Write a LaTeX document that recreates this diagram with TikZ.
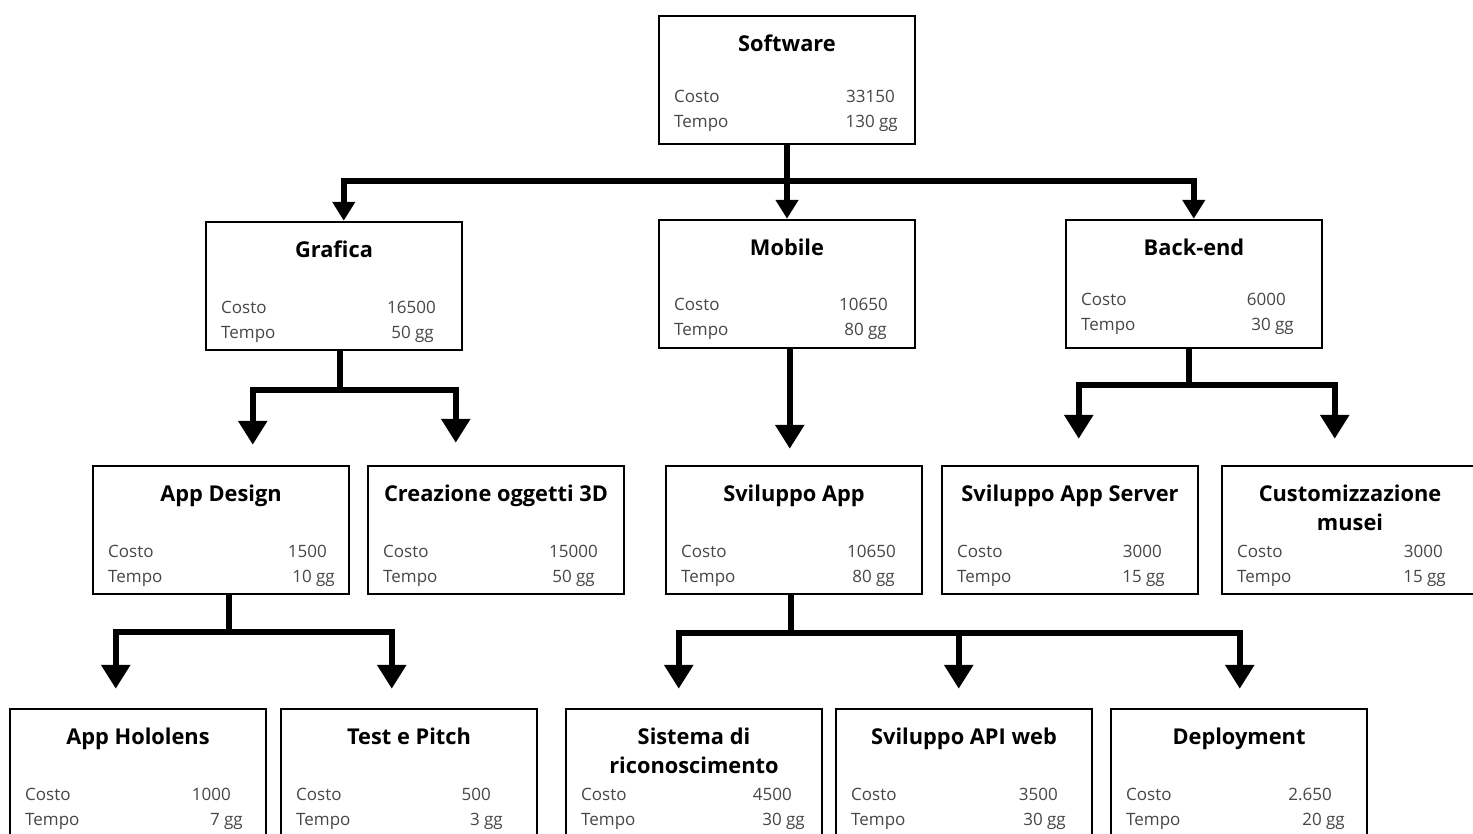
\documentclass[tikz,border=0pt]{standalone}
\usepackage{fontspec}
\setmainfont{Open Sans}
\usetikzlibrary{arrows.meta,calc}

\tikzset{
  wbs/.style={draw=black, line width=2.5pt, fill=white, minimum width=256pt, minimum height=128pt, inner sep=0pt},
  ttl/.style={anchor=north, inner sep=0pt, align=center, font=\fontsize{21.8}{29.5}\selectfont\bfseries},
  lbl/.style={anchor=base west, inner sep=0pt, text=black!72, font=\fontsize{17}{20}\selectfont},
  val/.style={anchor=base east, inner sep=0pt, text=black!72, font=\fontsize{17}{20}\selectfont},
  link/.style={line width=6pt, line join=miter},
  toparrow/.style={link, -{Triangle[width=22pt,length=19pt]}},
  subarrow/.style={link, -{Triangle[width=28pt,length=24pt]}},
}

% work-package box: name, left, top, title, cost, time, cost right edge, time right edge, first line baseline
\newcommand{\wbsbox}[9]{%
  \node[wbs] (#1) at (#2+128,#3+64) {};
  \node[ttl] (#1-t) at (#2+128,#3+18.5) {#4};
  \node[lbl] (#1-cl) at (#2+15,#3+#9) {Costo};
  \node[lbl] (#1-tl) at (#2+15,#3+#9+25) {Tempo};
  \node[val] (#1-cv) at (#7,#3+#9) {#5};
  \node[val] (#1-tv) at (#8,#3+#9+25) {#6};
}

\begin{document}
\begin{tikzpicture}[x=1pt,y=-1pt]
\useasboundingbox (0,0) rectangle (1473,833);
\clip (0,0) rectangle (1473,833);

% level 0
\wbsbox{sw}{659}{16}{Software}{33150}{130 gg}{895}{898}{86}
% level 1
\wbsbox{gr}{206}{222}{Grafica}{16500}{50 gg}{436}{434}{91}
\wbsbox{mo}{659}{220}{Mobile}{10650}{80 gg}{888}{887}{90}
\wbsbox{be}{1066}{220}{Back-end}{6000}{30 gg}{1286}{1294}{85}
% level 2
\wbsbox{ad}{93}{466}{App Design}{1500}{10 gg}{327}{335}{91}
\wbsbox{c3d}{368}{466}{Creazione oggetti 3D}{15000}{50 gg}{598}{595}{91}
\wbsbox{sa}{666}{466}{Sviluppo App}{10650}{80 gg}{896}{895}{91}
\wbsbox{srv}{942}{466}{Sviluppo App Server}{3000}{15 gg}{1162}{1165}{91}
\wbsbox{cm}{1222}{466}{Customizzazione\\musei}{3000}{15 gg}{1443}{1446}{91}
% level 3
\wbsbox{hl}{10}{709}{App Hololens}{1000}{7 gg}{231}{243}{91}
\wbsbox{tp}{281}{709}{Test e Pitch}{500}{3 gg}{491}{503}{91}
\wbsbox{sr}{566}{709}{Sistema di\\riconoscimento}{4500}{30 gg}{792}{805}{91}
\wbsbox{api}{836}{709}{Sviluppo API web}{3500}{30 gg}{1058}{1066}{91}
\wbsbox{dep}{1111}{709}{Deployment}{2.650}{20 gg}{1332}{1345}{91}

% Software -> level 1
\coordinate (swj) at ($(sw.south)+(0,36)$);
\draw[toparrow] (sw.south) -- (mo.north);
\draw[toparrow] (swj) -| ($(gr.north west)+(139,0)$);
\draw[toparrow] (swj) -| ($(be.north west)+(129,0)$);

% Grafica -> App Design, Creazione oggetti 3D
\coordinate (grs) at ($(gr.south west)+(135,0)$);
\coordinate (grj) at ($(grs)+(0,39)$);
\draw[subarrow, shorten >=20pt] (grs) -- (grj) -| ($(ad.north west)+(161,0)$);
\draw[subarrow, shorten >=22pt] (grs) -- (grj) -| ($(c3d.north west)+(89,0)$);

% Mobile -> Sviluppo App
\coordinate (mos) at ($(mo.south west)+(132,0)$);
\draw[subarrow, shorten >=16pt] (mos) -- (mos |- sa.north);

% Back-end -> Sviluppo App Server, Customizzazione musei
\coordinate (bes) at ($(be.south west)+(124,0)$);
\coordinate (bej) at ($(bes)+(0,36)$);
\draw[subarrow, shorten >=26pt] (bes) -- (bej) -| ($(srv.north west)+(138,0)$);
\draw[subarrow, shorten >=26pt] (bes) -- (bej) -| ($(cm.north west)+(114,0)$);

% App Design -> App Hololens, Test e Pitch
\coordinate (ads) at ($(ad.south west)+(137,0)$);
\coordinate (adj) at ($(ads)+(0,37)$);
\draw[subarrow, shorten >=19pt] (ads) -- (adj) -| ($(hl.north west)+(107,0)$);
\draw[subarrow, shorten >=19pt] (ads) -- (adj) -| ($(tp.north west)+(112,0)$);

% Sviluppo App -> Sistema di riconoscimento, Sviluppo API web, Deployment
\coordinate (sas) at ($(sa.south west)+(126,0)$);
\coordinate (saj) at ($(sas)+(0,38)$);
\draw[subarrow, shorten >=19pt] (sas) -- (saj) -| ($(sr.north west)+(114,0)$);
\draw[subarrow, shorten >=19pt] (sas) -- (saj) -| ($(api.north west)+(124,0)$);
\draw[subarrow, shorten >=19pt] (sas) -- (saj) -| ($(dep.north west)+(130,0)$);
\end{tikzpicture}
\end{document}
